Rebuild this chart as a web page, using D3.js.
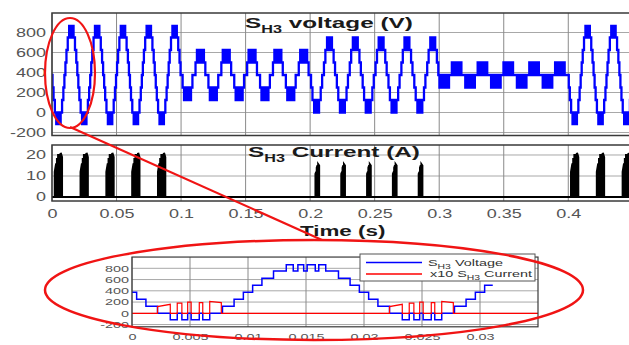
<!DOCTYPE html>
<html>
<head>
<meta charset="utf-8">
<script src="https://cdn.jsdelivr.net/npm/d3@7"></script>
<style>
body { margin: 0; background: #fff; }
svg { display: block; }
text { font-family: "Liberation Sans", Arial, sans-serif; white-space: pre; }
</style>
</head>
<body>
<svg id="chart" width="629" height="345"></svg>
<script>
// one switching period (50 Hz)
const period = 0.02;

// operating segments of the record
const segStart = [0, 0.1, 0.2, 0.3, 0.4];
const segEnd = [0.1, 0.2, 0.3, 0.4, 0.45];
const segMode = ["A", "B", "C", "D", "A"];

// voltage steps over one period, [time in period, level V]
const cycleA_v = [
  [0, 375], [0.0004, 250], [0.0012, 125], [0.0022, 0],
  [0.0033, -115], [0.0039, 0], [0.0043, -115], [0.0048, 0], [0.0051, -115], [0.0058, 0], [0.0061, -115], [0.0067, 0],
  [0.0078, 125], [0.0088, 250], [0.0096, 375], [0.0104, 500], [0.0112, 625], [0.0122, 750],
  [0.0133, 865], [0.0139, 750], [0.0143, 865], [0.0148, 750], [0.0151, 865], [0.0158, 750], [0.0161, 865], [0.0167, 750],
  [0.0178, 625], [0.0188, 500], [0.0196, 375]
];
const cycleB_v = [
  [0, 375], [0.0012, 250],
  [0.0023, 125], [0.0031, 250], [0.0036, 125], [0.0046, 250], [0.0054, 125], [0.0064, 250], [0.0069, 125], [0.0077, 250],
  [0.0088, 375], [0.0112, 500],
  [0.0123, 625], [0.0131, 500], [0.0136, 625], [0.0146, 500], [0.0154, 625], [0.0164, 500], [0.0169, 625], [0.0177, 500],
  [0.0188, 375]
];
const cycleC_v = [
  [0, 375], [0.0007, 250], [0.0018, 125],
  [0.0031, 0], [0.0037, 125], [0.0042, 0], [0.0048, 125], [0.0052, 0], [0.0058, 125], [0.0063, 0], [0.0069, 125],
  [0.0082, 250], [0.0093, 375], [0.0107, 500], [0.0118, 625],
  [0.0131, 750], [0.0137, 625], [0.0142, 750], [0.0148, 625], [0.0152, 750], [0.0158, 625], [0.0163, 750], [0.0169, 625],
  [0.0182, 500], [0.0193, 375]
];
const cycleD_v = [
  [0, 375],
  [0.0002, 250], [0.0012, 375], [0.0020, 250], [0.0034, 375], [0.0044, 250], [0.0058, 375], [0.0066, 250], [0.0076, 375],
  [0.0098, 500], [0.0108, 375], [0.0116, 500], [0.0130, 375], [0.0140, 500], [0.0154, 375], [0.0162, 500], [0.0172, 375]
];

// switch current over one period, [time in period, A]
const cycleA_i = [
  [0.0022, 0], [0.0022, 12], [0.0033, 16], [0.0033, 0], [0.0039, 0], [0.0039, 18], [0.0043, 18], [0.0043, 0],
  [0.0048, 0], [0.0048, 20], [0.0051, 20], [0.0051, 0], [0.0058, 0], [0.0058, 19], [0.0061, 19], [0.0061, 0],
  [0.0067, 0], [0.0067, 21], [0.0077, 19], [0.0077, 0]
];
const cycleC_i = [
  [0.0042, 0], [0.0042, 11], [0.0048, 12], [0.0048, 0], [0.0052, 0], [0.0052, 14], [0.0058, 15], [0.0058, 0],
  [0.0063, 0], [0.0063, 15.5], [0.0069, 15], [0.0069, 0]
];

// ticks
const xTicks = [0, 0.05, 0.1, 0.15, 0.2, 0.25, 0.3, 0.35, 0.4];
const xTickLabels = ["0", "0.05", "0.1", "0.15", "0.2", "0.25", "0.3", "0.35", "0.4"];
const vTicks = [-200, 0, 200, 400, 600, 800];
const iTicks = [0, 10, 20];
const zxTicks = [0, 0.005, 0.01, 0.015, 0.02, 0.025, 0.03];
const zxTickLabels = ["0", "0.005", "0.01", "0.015", "0.02", "0.025", "0.03"];
const zyTicks = [-200, 0, 200, 400, 600, 800];

const cycleVolt = { A: cycleA_v, B: cycleB_v, C: cycleC_v, D: cycleD_v };
const cycleCurr = { A: cycleA_i, C: cycleC_i };

// repeat each period's steps across its segment
function buildVoltage(tEnd) {
  const pts = [];
  segStart.forEach((s, k) => {
    const steps = cycleVolt[segMode[k]];
    const n = Math.ceil((segEnd[k] - s) / period - 1e-9);
    for (let c = 0; c < n; c++) {
      const t0 = s + c * period;
      steps.forEach(([t, v]) => {
        if (t0 + t < Math.min(segEnd[k], tEnd)) pts.push([t0 + t, v]);
      });
    }
  });
  pts.push([tEnd, pts[pts.length - 1][1]]);
  return pts;
}
function buildCurrent(tEnd) {
  const pts = [[0, 0]];
  segStart.forEach((s, k) => {
    const steps = cycleCurr[segMode[k]];
    if (!steps) return;
    const n = Math.ceil((segEnd[k] - s) / period - 1e-9);
    for (let c = 0; c < n; c++) {
      const t0 = s + c * period;
      steps.forEach(([t, v]) => {
        if (t0 + t < Math.min(segEnd[k], tEnd)) pts.push([t0 + t, v]);
      });
    }
  });
  pts.push([tEnd, 0]);
  return pts;
}

const svg = d3.select("#chart");
const labelColor = "#555";

// scales
const x = d3.scaleLinear().domain([0, 0.4486]).range([52, 631]);
const yV = d3.scaleLinear().domain([-230, 995]).range([135.5, 13]);
const yI = d3.scaleLinear().domain([-1.9, 24.76]).range([201, 145]);
const xs = d3.scaleLinear().domain([0, 0.035]).range([132, 538]);
const ys = d3.scaleLinear().domain([-240, 1000]).range([326.8, 257.05]);

function clip(id, xsc, ysc) {
  svg.append("clipPath").attr("id", id).append("rect")
    .attr("x", xsc.range()[0]).attr("y", ysc.range()[1])
    .attr("width", xsc.range()[1] - xsc.range()[0])
    .attr("height", ysc.range()[0] - ysc.range()[1]);
}

function grid(xsc, ysc, xt, yt) {
  const g = svg.append("g");
  g.selectAll(".h").data(yt).enter().append("line")
    .attr("x1", xsc.range()[0]).attr("x2", xsc.range()[1])
    .attr("y1", d => ysc(d)).attr("y2", d => ysc(d))
    .attr("stroke", "#a8a8a8").attr("stroke-width", 1);
  g.selectAll(".v").data(xt).enter().append("line")
    .attr("x1", d => xsc(d)).attr("x2", d => xsc(d))
    .attr("y1", ysc.range()[0]).attr("y2", ysc.range()[1])
    .attr("stroke", "#8a8a8a").attr("stroke-width", 1);
}

function frame(xsc, ysc, w) {
  svg.append("rect")
    .attr("x", xsc.range()[0]).attr("y", ysc.range()[1])
    .attr("width", xsc.range()[1] - xsc.range()[0])
    .attr("height", ysc.range()[0] - ysc.range()[1])
    .attr("fill", "none").attr("stroke", "#3a3a3a").attr("stroke-width", w);
}

function leftAxis(ysc, xsc, ticks, size, dx, sx) {
  const g = svg.append("g").attr("transform", `translate(${xsc.range()[0]},0)`)
    .call(d3.axisLeft(ysc).tickValues(ticks).tickSize(0).tickFormat(d => String(d)));
  g.select(".domain").remove();
  g.selectAll("text").attr("x", 0).attr("font-size", size).attr("fill", labelColor)
    .attr("font-family", "Liberation Sans, Arial, sans-serif")
    .attr("transform", `translate(${dx},0) scale(${sx},1)`);
}

function bottomAxis(xsc, ysc, ticks, labels, size, ty, sx) {
  const g = svg.append("g").attr("transform", `translate(0,${ysc.range()[0]})`)
    .call(d3.axisBottom(xsc).tickValues(ticks).tickSize(0).tickFormat((d, i) => labels[i]));
  g.select(".domain").remove();
  g.selectAll("text").attr("y", ty).attr("font-size", size).attr("fill", labelColor)
    .attr("font-family", "Liberation Sans, Arial, sans-serif")
    .attr("transform", `scale(${sx},1)`);
}

function title(px, py, sx, size, subSize, main, sub, rest) {
  const t = svg.append("text").attr("transform", `translate(${px},${py}) scale(${sx},1)`)
    .attr("font-weight", "bold").attr("font-size", size).attr("fill", "#1a1a1a");
  t.append("tspan").text(main);
  t.append("tspan").attr("font-size", subSize).attr("dy", 5).text(sub);
  t.append("tspan").attr("dy", -5).text(rest);
}

// ---- voltage panel
clip("cv", x, yV);
grid(x, yV, xTicks, vTicks);
svg.append("path").datum(buildVoltage(0.45))
  .attr("clip-path", "url(#cv)")
  .attr("d", d3.line().x(d => x(d[0])).y(d => yV(d[1])).curve(d3.curveStepAfter))
  .attr("fill", "none").attr("stroke", "#0000ff").attr("stroke-width", 2.3);
frame(x, yV, 1.5);
leftAxis(yV, x, vTicks, 12, -6, 1.5);
title(245, 28, 1.62, 15, 10, "S", "H3", " voltage (V)");

// ---- current panel
clip("ci", x, yI);
grid(x, yI, xTicks, iTicks);
svg.append("path").datum(buildCurrent(0.45))
  .attr("clip-path", "url(#ci)")
  .attr("d", d3.line().x(d => x(d[0])).y(d => yI(d[1])))
  .attr("fill", "none").attr("stroke", "#000").attr("stroke-width", 2.2);
frame(x, yI, 1.5);
leftAxis(yI, x, iTicks, 12, -6, 1.5);
bottomAxis(x, yI, xTicks, xTickLabels, 12, 8, 1.5);
title(248, 157, 1.62, 15, 10, "S", "H3", " Current (A)");

svg.append("text").attr("transform", "translate(300,236) scale(1.6,1)")
  .attr("font-weight", "bold").attr("font-size", 14).attr("fill", "#1a1a1a").text("Time (s)");

// ---- zoomed inset
clip("cz", xs, ys);
svg.append("rect").attr("x", 132).attr("y", 257.05).attr("width", 406).attr("height", 69.75).attr("fill", "#fff");
grid(xs, ys, zxTicks, zyTicks);
svg.append("path").datum(buildVoltage(0.0311))
  .attr("clip-path", "url(#cz)")
  .attr("d", d3.line().x(d => xs(d[0])).y(d => ys(d[1])).curve(d3.curveStepAfter))
  .attr("fill", "none").attr("stroke", "#0000ff").attr("stroke-width", 1.5);
svg.append("path").datum(buildCurrent(0.035).map(d => [d[0], d[1] * 10]))
  .attr("clip-path", "url(#cz)")
  .attr("d", d3.line().x(d => xs(d[0])).y(d => ys(d[1])))
  .attr("fill", "none").attr("stroke", "#ff0000").attr("stroke-width", 1.2);
frame(xs, ys, 1.2);
leftAxis(ys, xs, zyTicks, 9, -3, 1.6);
bottomAxis(xs, ys, zxTicks, zxTickLabels, 9, 7, 1.6);

// legend
const lg = svg.append("g");
lg.append("rect").attr("x", 360).attr("y", 254).attr("width", 175).attr("height", 27)
  .attr("fill", "#fff").attr("stroke", "#555").attr("stroke-width", 1);
[["#0000ff", 262.5, 428, 265.5, "", "S", "H3", " Voltage"],
 ["#ff0000", 274, 430, 277, "x10 ", "S", "H3", " Current"]].forEach(([c, ly, tx, ty, pre, m, s, r]) => {
  lg.append("line").attr("x1", 366).attr("x2", 422).attr("y1", ly).attr("y2", ly)
    .attr("stroke", c).attr("stroke-width", 1.3);
  const t = lg.append("text").attr("transform", `translate(${tx},${ty}) scale(1.6,1)`)
    .attr("font-size", 9).attr("fill", "#333");
  t.append("tspan").text(pre + m);
  t.append("tspan").attr("font-size", 6.5).attr("dy", 3).text(s);
  t.append("tspan").attr("dy", -3).text(r);
});

// ---- red callout
const red = "#f01414";
svg.append("ellipse").attr("cx", 70).attr("cy", 73).attr("rx", 25).attr("ry", 55)
  .attr("fill", "none").attr("stroke", red).attr("stroke-width", 2.2);
svg.append("line").attr("x1", 70).attr("y1", 127).attr("x2", 322).attr("y2", 240)
  .attr("stroke", red).attr("stroke-width", 2.2);
svg.append("ellipse").attr("cx", 314).attr("cy", 290).attr("rx", 269).attr("ry", 50)
  .attr("fill", "none").attr("stroke", red).attr("stroke-width", 2.5);
</script>
</body>
</html>
